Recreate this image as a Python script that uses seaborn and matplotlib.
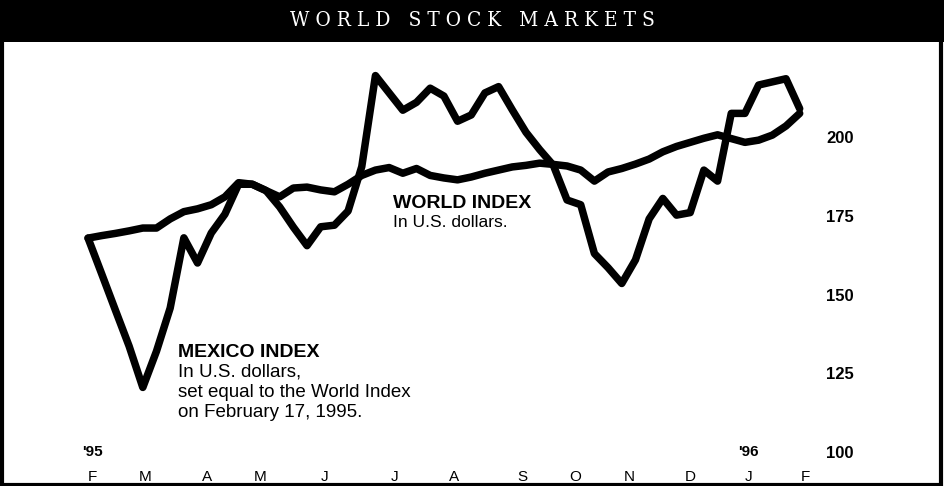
import pandas as pd
import numpy as np
import matplotlib
matplotlib.use("Agg")
import matplotlib.pyplot as plt
from matplotlib import font_manager
from matplotlib.patches import Rectangle
import seaborn as sns

# ================= DATA (weekly closes) =================
week_dates = pd.date_range("1995-02-17", periods=53, freq="7D")

world_index = [167.9, 168.7, 169.4, 170.2, 171.1, 171.1, 174.0, 176.3, 177.2, 178.5,
               181.0, 185.5, 185.0, 183.0, 181.0, 183.8, 184.1, 183.2, 182.6, 185.0,
               187.8, 189.5, 190.3, 188.5, 190.0, 187.8, 187.0, 186.4, 187.3, 188.5,
               189.5, 190.5, 191.0, 191.7, 191.3, 190.8, 189.5, 186.0, 188.9, 190.0,
               191.4, 193.0, 195.3, 197.0, 198.3, 199.6, 200.7, 199.5, 198.3, 199.0,
               200.6, 203.5, 207.5]

mexico_index = [167.9, 156.5, 145.0, 133.6, 120.5, 132.0, 145.7, 168.0, 160.0, 169.5,
                175.5, 185.0, 185.0, 183.0, 177.8, 171.4, 165.5, 171.5, 172.0, 176.5,
                190.6, 219.5, 214.0, 208.5, 211.0, 215.5, 213.0, 205.0, 207.0, 214.0,
                216.0, 208.6, 201.5, 196.0, 191.0, 180.0, 178.5, 163.0, 158.5, 153.5,
                161.0, 174.0, 180.5, 175.2, 176.0, 189.5, 186.0, 207.5, 207.5, 216.5,
                217.5, 218.5, 209.0]

# month letters are hand placed in the original, roughly mid/late month
month_ticks = pd.to_datetime([
    "1995-02-19", "1995-03-18", "1995-04-19", "1995-05-16", "1995-06-18",
    "1995-07-24", "1995-08-23", "1995-09-27", "1995-10-24", "1995-11-21",
    "1995-12-22", "1996-01-21", "1996-02-19",
])
month_labels = ["F", "M", "A", "M", "J", "J", "A", "S", "O", "N", "D", "J", "F"]
year_marks = {"'95": month_ticks[0], "'96": month_ticks[11]}
y_ticks = [100, 125, 150, 175, 200]

df = pd.DataFrame({
    "date": list(week_dates) * 2,
    "value": world_index + mexico_index,
    "series": ["World"] * len(world_index) + ["Mexico"] * len(mexico_index),
})

# ================= STYLE =================
sns.set_theme(style="white")
names = {f.name for f in font_manager.fontManager.ttflist}
narrow = "Liberation Sans Narrow" if "Liberation Sans Narrow" in names else "Liberation Sans"
plt.rcParams["font.family"] = [narrow, "DejaVu Sans"]
plt.rcParams["text.color"] = "black"
plt.rcParams["xtick.color"] = "black"
plt.rcParams["ytick.color"] = "black"

W, H = 944, 486
fig = plt.figure(figsize=(W / 100, H / 100), dpi=100)
fig.patch.set_facecolor("white")

# title band + frame
fig.add_artist(Rectangle((0, 1 - 42 / H), 1, 42 / H, transform=fig.transFigure,
                         facecolor="black", edgecolor="none"))
fig.add_artist(Rectangle((0.002, 0.003), 0.995, 0.994, transform=fig.transFigure,
                         fill=False, edgecolor="black", linewidth=3))
fig.text(0.5, 1 - 21 / H, "W O R L D   S T O C K   M A R K E T S", color="white",
         ha="center", va="center", fontsize=15, family="DejaVu Serif",
         fontstretch="condensed")

ax = fig.add_axes([4 / W, (H - 462) / H, (822 - 4) / W, (462 - 42) / H])
ax.set_facecolor("none")

sns.lineplot(data=df, x="date", y="value", hue="series",
             palette={"World": "black", "Mexico": "black"},
             linewidth=5.4, legend=False, sort=False, ax=ax)
for ln in ax.lines:
    ln.set_solid_joinstyle("round")
    ln.set_solid_capstyle("round")

ax.set_xticks(month_ticks)
ax.set_xticklabels(month_labels, fontsize=11, color="black")
ax.tick_params(axis="x", length=0, pad=6)
ax.yaxis.tick_right()
ax.set_yticks(y_ticks)
ax.set_yticklabels([str(v) for v in y_ticks], fontsize=12, fontweight="bold", color="black")
ax.tick_params(axis="y", length=0, pad=3)
# limits after the ticks, so set_xticks does not widen the view
ax.set_xlim(pd.Timestamp("1995-01-05"), pd.Timestamp("1996-02-27 10:00"))
ax.set_ylim(96.83, 230.16)
ax.set_xlabel("")
ax.set_ylabel("")
for s in ax.spines.values():
    s.set_visible(False)

for lab, d in year_marks.items():
    ax.text(d, 100, lab, ha="center", va="center", fontsize=11, fontweight="bold",
            color="black")

# labels
wx = pd.Timestamp("1995-07-23")
ax.text(wx, 179.0, "WORLD INDEX", fontsize=14, fontweight="bold", va="center", ha="left",
        color="black")
ax.text(wx, 173.0, "In U.S. dollars.", fontsize=12.5, va="center", ha="left", color="black")

mx = pd.Timestamp("1995-04-04")
ax.text(mx, 131.7, "MEXICO INDEX", fontsize=14, fontweight="bold", va="center", ha="left",
        color="black")
ax.text(mx, 125.4, "In U.S. dollars,", fontsize=13.5, va="center", ha="left", color="black")
ax.text(mx, 119.0, "set equal to the World Index", fontsize=13.5, va="center", ha="left",
        color="black")
ax.text(mx, 112.7, "on February 17, 1995.", fontsize=13.5, va="center", ha="left",
        color="black")

fig.savefig("out.png", dpi=100)
